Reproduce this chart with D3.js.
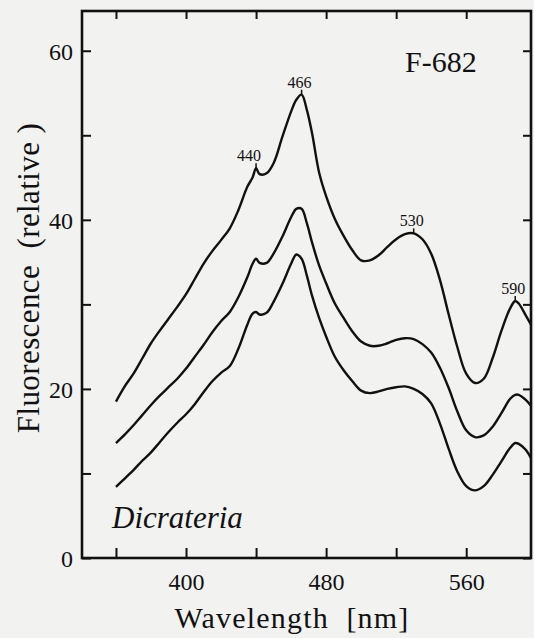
<!DOCTYPE html>
<html>
<head>
<meta charset="utf-8">
<script src="https://cdn.jsdelivr.net/npm/d3@7/dist/d3.min.js"></script>
<style>
  html, body { margin: 0; padding: 0; background: #f2f2f1; }
  svg { display: block; }
  text { font-family: "Liberation Serif", "Times New Roman", serif !important; fill: #111; white-space: pre; }
</style>
</head>
<body>
<svg id="chart" width="534" height="638"></svg>
<script>
// ---- data ----
const wavelength = [360,365,370,375,380,385,390,395,400,405,410,415,420,425,430,435,438,440,442,446,450,455,460,463,466,469,472,476,480,485,490,495,500,505,510,515,520,525,530,535,540,545,550,555,560,565,570,575,580,585,588,590,594,597];
const upperSeries = [18.5,20.3,21.8,23.6,25.4,26.9,28.3,29.7,31.2,33.0,34.8,36.3,37.6,39.0,41.2,43.9,45.0,46.1,45.4,45.5,46.7,49.8,52.8,54.2,54.8,53.0,50.2,45.6,42.8,40.1,38.1,36.4,35.2,35.2,35.8,36.8,37.7,38.3,38.4,37.7,36.0,32.9,28.8,24.9,21.8,20.7,21.2,23.6,26.8,29.5,30.4,30.1,28.7,27.6];
const middleSeries = [13.6,14.6,15.7,16.9,18.1,19.2,20.2,21.2,22.4,23.8,25.2,26.7,28.0,29.1,30.9,33.2,34.8,35.4,34.9,34.9,36.0,38.0,40.3,41.3,41.3,39.6,37.3,34.6,32.5,30.1,28.4,26.8,25.6,25.1,25.1,25.4,25.8,26.0,25.9,25.3,24.3,22.5,20.1,17.3,15.1,14.3,14.5,15.5,17.1,18.8,19.3,19.3,18.7,18.0];
const lowerSeries = [8.4,9.4,10.4,11.5,12.5,13.7,14.9,16.0,17.0,18.2,19.6,20.9,21.9,22.7,24.8,27.6,28.9,29.1,28.8,29.0,30.3,32.4,34.8,35.9,35.4,33.4,31.0,28.4,26.2,23.8,22.2,20.9,19.8,19.5,19.7,20.0,20.2,20.3,20.0,19.4,18.3,15.9,12.9,10.2,8.5,8.0,8.5,9.8,11.4,13.0,13.6,13.5,12.8,11.8];
const peakLabels = ["440","466","530","590"];
const peakWavelengths = [440,466,530,588];
const peakValues = [46.1,54.8,38.4,30.4];
const xTicks = [360,400,440,480,520,560];
const xTickLabels = ["","400","","480","","560"];
const yTicks = [0,10,20,30,40,50,60];
const yTickLabels = ["0","","20","","40","","60"];
const xDomain = [340.6, 597];
const yDomain = [0, 64.7];
const xTitle = "Wavelength  [nm]";
const yTitle = "Fluorescence  (relative )";
const panelLabel = "F-682";
const speciesLabel = "Dicrateria";

// ---- layout ----
const svg = d3.select("#chart");
const W = 534, H = 638;
const L = 82, R = 531, T = 11, B = 558;
const FONT = "Liberation Serif, Times New Roman, serif";

svg.append("rect").attr("width", W).attr("height", H).attr("fill", "#f2f2f1");

const x = d3.scaleLinear().domain(xDomain).range([L, R]);
const y = d3.scaleLinear().domain(yDomain).range([B, T]);

const stroke = "#111";

// axes (ticks pointing inward)
const gB = svg.append("g").attr("transform", `translate(0,${B})`)
  .call(d3.axisBottom(x).tickValues(xTicks).tickSize(-10).tickPadding(15).tickFormat((d,i) => xTickLabels[i]));
const gT = svg.append("g").attr("transform", `translate(0,${T})`)
  .call(d3.axisTop(x).tickValues(xTicks).tickSize(-8).tickFormat(""));
const gL = svg.append("g").attr("transform", `translate(${L},0)`)
  .call(d3.axisLeft(y).tickValues(yTicks).tickSize(-9).tickPadding(9).tickFormat((d,i) => yTickLabels[i]));
const gR = svg.append("g").attr("transform", `translate(${R},0)`)
  .call(d3.axisRight(y).tickValues(yTicks).tickSize(-8).tickFormat(""));

[gB, gT, gL, gR].forEach(g => {
  g.attr("font-family", FONT);
  g.select(".domain").remove();
  g.selectAll(".tick line").attr("stroke", stroke).attr("stroke-width", 2);
  g.selectAll(".tick text").attr("font-family", FONT).attr("font-size", 24).attr("fill", stroke);
});
gL.selectAll(".tick text").attr("dy", "0.35em");

// frame
svg.append("rect").attr("x", L).attr("y", T).attr("width", R - L).attr("height", B - T)
  .attr("fill", "none").attr("stroke", stroke).attr("stroke-width", 2.6);

// curves
const line = d3.line().x((d, i) => x(wavelength[i])).y(d => y(d)).curve(d3.curveCatmullRom.alpha(0.5));
[upperSeries, middleSeries, lowerSeries].forEach(s => {
  svg.append("path").attr("d", line(s)).attr("fill", "none")
    .attr("stroke", stroke).attr("stroke-width", 2.4).attr("stroke-linejoin", "round");
});

// peak labels with small marks
peakLabels.forEach((lab, i) => {
  const px = x(peakWavelengths[i]), py = y(peakValues[i]);
  svg.append("line").attr("x1", px).attr("x2", px).attr("y1", py).attr("y2", py - 5)
    .attr("stroke", stroke).attr("stroke-width", 1.5);
  svg.append("text").attr("x", px - (i === 0 ? 7 : 2)).attr("y", py - 7)
    .attr("font-family", FONT).attr("text-anchor", "middle").attr("font-size", 16).text(lab);
});

// annotations
svg.append("text").attr("x", 405).attr("y", 72).attr("font-family", FONT).attr("font-size", 30).text(panelLabel);
svg.append("text").attr("x", 112).attr("y", 528).attr("font-family", FONT).attr("font-size", 31)
  .attr("font-style", "italic").text(speciesLabel);

// axis titles
svg.append("text").attr("x", 292).attr("y", 628).attr("text-anchor", "middle").attr("font-family", FONT)
  .attr("font-size", 30).attr("letter-spacing", 1.2).text(xTitle);
svg.append("text").attr("transform", "translate(39,278) rotate(-90)").attr("text-anchor", "middle")
  .attr("font-family", FONT).attr("font-size", 31).attr("letter-spacing", 0.4).text(yTitle);
</script>
</body>
</html>
